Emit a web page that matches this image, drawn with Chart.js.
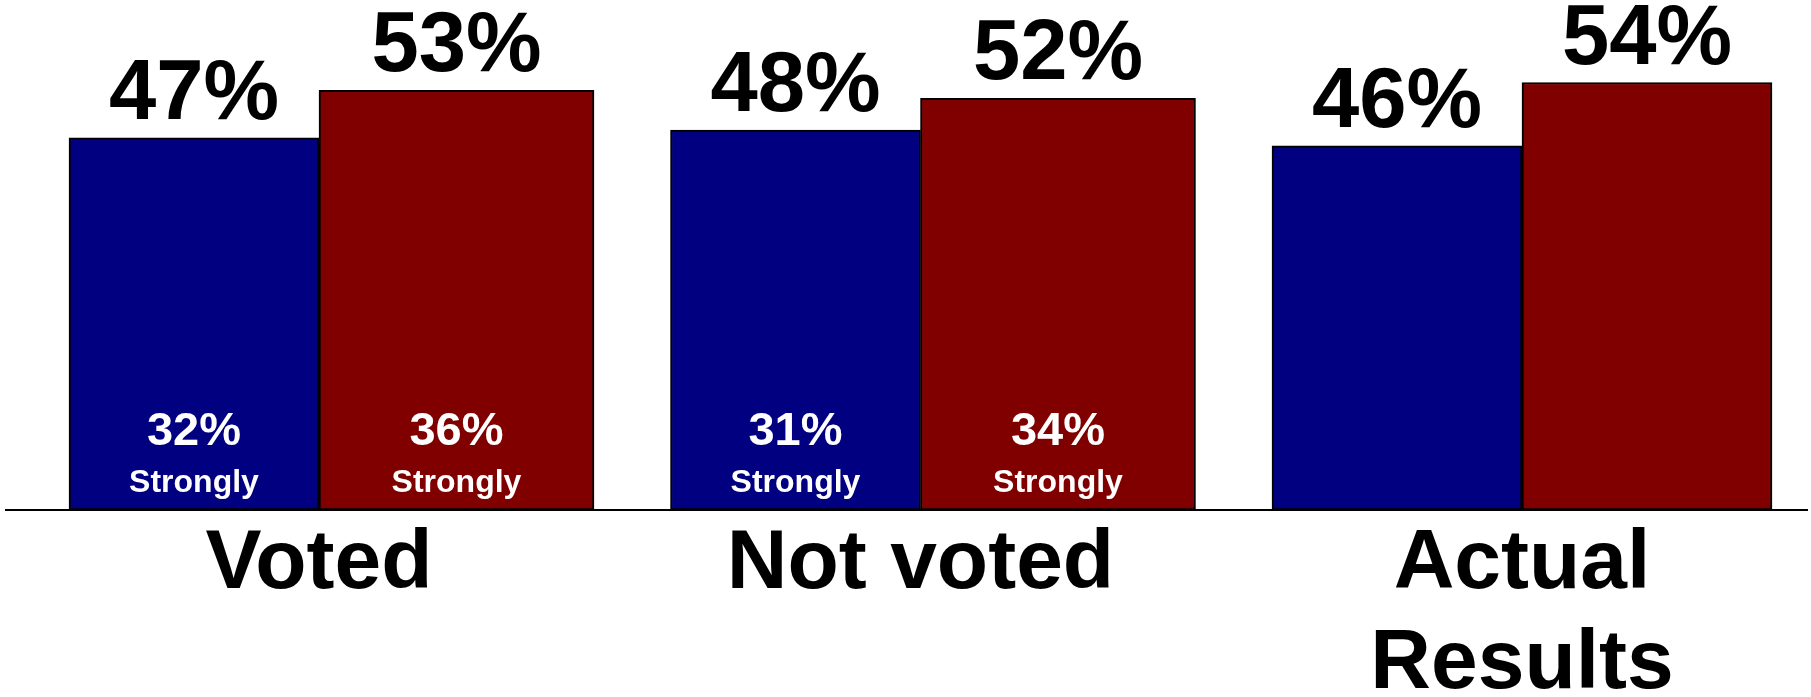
<!DOCTYPE html>
<html>
<head>
<meta charset="utf-8">
<script src="https://cdn.jsdelivr.net/npm/chart.js@4.4.1/dist/chart.umd.min.js"></script>
<style>
  html, body { margin: 0; padding: 0; background: #fff; }
  canvas { display: block; }
</style>
</head>
<body>
<canvas id="chart" width="1811" height="697"></canvas>
<script>
// values
const categories = ['Voted', 'Not voted', ['Actual', 'Results']];
const blueTotals = [47, 48, 46];
const redTotals = [53, 52, null];   // survey groups (bars drawn a bit wider)
const redActual = [null, null, 54];
const blueStrongly = [32, 31, null];
const redStrongly = [36, 34, null];

const FONT = '"Liberation Sans", Arial, Helvetica, sans-serif';
const BLUE = '#000080';
const RED = '#800000';

// black baseline running across the whole picture
const axisLine = {
  id: 'axisLine',
  afterDatasetsDraw(chart) {
    const ctx = chart.ctx;
    const y0 = chart.scales.y.getPixelForValue(0);
    ctx.save();
    ctx.strokeStyle = '#000';
    ctx.lineWidth = 2;
    ctx.beginPath();
    ctx.moveTo(5, y0);
    ctx.lineTo(chart.width - 3, y0);
    ctx.stroke();
    ctx.restore();
  }
};

// value labels above bars, "Strongly" labels inside
const barLabels = {
  id: 'barLabels',
  afterDatasetsDraw(chart) {
    const ctx = chart.ctx;
    const y0 = chart.scales.y.getPixelForValue(0);
    ctx.save();
    ctx.textAlign = 'center';
    ctx.textBaseline = 'alphabetic';
    chart.data.datasets.forEach((ds, di) => {
      const meta = chart.getDatasetMeta(di);
      meta.data.forEach((bar, i) => {
        const v = ds.data[i];
        if (v == null) return;
        ctx.fillStyle = '#000';
        ctx.font = 'bold 85px ' + FONT;
        ctx.fillText(v + '%', bar.x, bar.y - 19);
        const s = ds.strongly ? ds.strongly[i] : null;
        if (s == null) return;
        ctx.fillStyle = '#fff';
        ctx.font = 'bold 47px ' + FONT;
        ctx.fillText(s + '%', bar.x, y0 - 65);
        ctx.font = 'bold 32px ' + FONT;
        ctx.fillText('Strongly', bar.x, y0 - 18);
      });
    });
    ctx.restore();
  }
};

const barStyle = {
  borderColor: '#000',
  borderWidth: 2,
  borderSkipped: false,
  skipNull: true,
  clip: false
};

new Chart(document.getElementById('chart'), {
  type: 'bar',
  data: {
    labels: categories,
    datasets: [
      Object.assign({ label: 'Blue', data: blueTotals, strongly: blueStrongly, backgroundColor: BLUE, barThickness: 250 }, barStyle),
      Object.assign({ label: 'Red', data: redTotals, strongly: redStrongly, backgroundColor: RED, barThickness: 275 }, barStyle),
      Object.assign({ label: 'Red actual', data: redActual, backgroundColor: RED, barThickness: 250 }, barStyle)
    ]
  },
  options: {
    responsive: false,
    animation: false,
    layout: { padding: { left: 319, right: 289, top: 35, bottom: 0 } },
    plugins: {
      legend: { display: false },
      tooltip: { enabled: false }
    },
    scales: {
      x: {
        offset: false,
        grid: { display: false, drawTicks: false },
        border: { display: false },
        ticks: {
          color: '#000',
          padding: 4,
          maxRotation: 0,
          autoSkip: false,
          font: { family: FONT, size: 84, weight: 'bold', lineHeight: 1.2 }
        },
        afterFit(scale) { scale.height = 187; }
      },
      y: { display: false, min: 0, max: 60 }
    }
  },
  plugins: [axisLine, barLabels]
});
</script>
</body>
</html>
